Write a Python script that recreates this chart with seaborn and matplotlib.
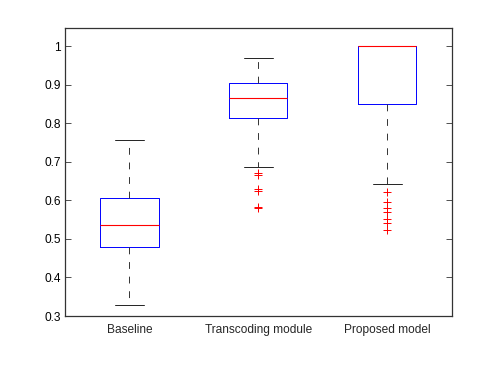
import pandas as pd
import matplotlib
matplotlib.use('Agg')
import matplotlib.pyplot as plt
import seaborn as sns

groups = ['Baseline', 'Transcoding module', 'Proposed model']
# summary values: lower whisker, q1, median, q3, upper whisker
lo = [0.329, 0.686, 0.642]
q1 = [0.478, 0.814, 0.850]
med = [0.536, 0.866, 1.000]
q3 = [0.607, 0.905, 1.000]
hi = [0.757, 0.970, 1.000]
outliers = [[],
            [0.672, 0.666, 0.630, 0.624, 0.584, 0.579],
            [0.621, 0.595, 0.579, 0.571, 0.551, 0.541, 0.523]]


def sample(i):
    # values placed so that the quartiles land exactly on the read values
    below = sorted(outliers[i]) + [lo[i]]
    m = len(below) + 1
    vals = below + [q1[i]] * (m - len(below) + 1) + [med[i]] * m + [q3[i]] * m + [hi[i]] * m
    return vals


rows = []
for i, g in enumerate(groups):
    for v in sample(i):
        rows.append({'group': g, 'value': v})
df = pd.DataFrame(rows)

sns.set_style('white')
plt.rcParams['font.family'] = ['Liberation Sans', 'DejaVu Sans']

fig = plt.figure(figsize=(4.98, 3.75), dpi=100)
ax = fig.add_axes([0.1305, 0.1573, 0.777, 0.768])

sns.boxplot(data=df, x='group', y='value', order=groups, ax=ax, fill=False,
            width=0.45, whis=1.5,
            boxprops=dict(color='blue', linewidth=0.7),
            medianprops=dict(color='red', linewidth=0.8),
            whiskerprops=dict(color='#333333', linewidth=0.7, linestyle=(0, (7, 8))),
            capprops=dict(color='#222222', linewidth=0.7),
            flierprops=dict(marker='+', markeredgecolor='red', markerfacecolor='red',
                            markersize=6, markeredgewidth=0.7))

ax.set_xlim(-0.5, 2.5)
ax.set_ylim(0.3, 1.047)
ax.set_yticks([0.3, 0.4, 0.5, 0.6, 0.7, 0.8, 0.9, 1.0])
ax.set_yticklabels(['0.3', '0.4', '0.5', '0.6', '0.7', '0.8', '0.9', '1'])
ax.set_xlabel('')
ax.set_ylabel('')
ax.tick_params(axis='y', direction='in', left=True, right=True, length=4,
               width=0.6, labelsize=8.6, colors='#333333', labelcolor='black', pad=3)
ax.tick_params(axis='x', length=0, labelsize=8.6, pad=6)
for s in ax.spines.values():
    s.set_visible(True)
    s.set_color('#333333')
    s.set_linewidth(0.9)

fig.savefig('out.png', dpi=100, facecolor='white')
